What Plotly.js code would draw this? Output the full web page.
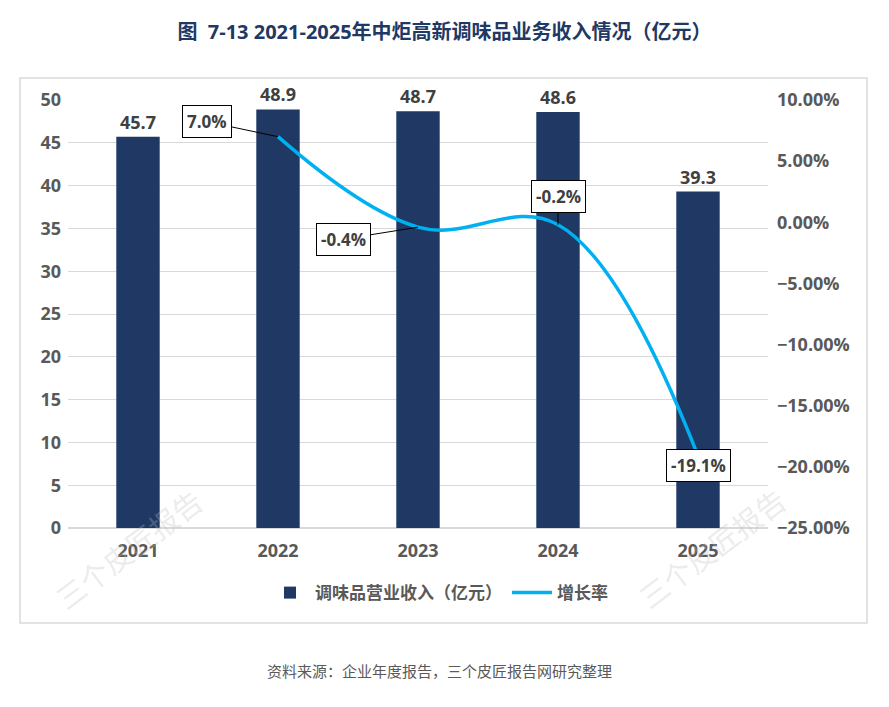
<!DOCTYPE html>
<html>
<head>
<meta charset="utf-8">
<script src="https://cdn.plot.ly/plotly-3.0.1.min.js"></script>
<style>
  body { margin: 0; background: #fff; }
  #chart { width: 889px; height: 707px; }
</style>
</head>
<body>
<div id="chart"></div>
<script>
var years = ['2021', '2022', '2023', '2024', '2025'];
var revenue = [45.7, 48.9, 48.7, 48.6, 39.3];
var growth = [null, 0.070, -0.004, -0.002, -0.191];
var growthLabels = ['', '7.0%', '-0.4%', '-0.2%', '-19.1%'];
// label offsets (px) from each point
var labelAx = [0, -71, -75, 0, 0];
var labelAy = [0, -15, 12, -28, 10];

var font = '"Open Sans", "Noto Sans CJK SC", sans-serif';
var navy = '#1f3864';
var blue = '#00b0f0';
var grey = '#595959';

var bars = {
    x: years,
    y: revenue,
    name: '调味品营业收入（亿元）',
    type: 'bar',
    marker: { color: navy },
    text: revenue.map(function (v) { return v.toFixed(1); }),
    textposition: 'outside',
    cliponaxis: false,
    textfont: { family: font, size: 18, color: '#404040', weight: 'bold' },
    hoverinfo: 'x+y'
};

var line = {
    x: years,
    y: growth,
    name: '增长率',
    type: 'scatter',
    mode: 'lines',
    yaxis: 'y2',
    line: { color: blue, width: 3.5, shape: 'spline', smoothing: 1.1 },
    connectgaps: false
};

var annotations = [];
for (var i = 0; i < years.length; i++) {
    if (growth[i] === null) continue;
    annotations.push({
        x: i, y: growth[i], xref: 'x', yref: 'y2',
        text: '<b>' + growthLabels[i] + '</b>',
        showarrow: true, arrowhead: 0, arrowwidth: 1, arrowcolor: '#000',
        ax: labelAx[i], ay: labelAy[i],
        bgcolor: '#fff', bordercolor: '#000', borderwidth: 1, borderpad: 4,
        font: { family: font, size: 17, color: '#404040' }
    });
}
// watermarks
annotations.push({
    xref: 'paper', yref: 'paper', x: 0.087, y: -0.05, text: '三个皮匠报告',
    showarrow: false, textangle: -37, xanchor: 'center', yanchor: 'middle',
    font: { family: font, size: 29, color: 'rgba(190,190,190,0.3)' }
});
annotations.push({
    xref: 'paper', yref: 'paper', x: 0.92, y: -0.047, text: '三个皮匠报告',
    showarrow: false, textangle: -37, xanchor: 'center', yanchor: 'middle',
    font: { family: font, size: 29, color: 'rgba(190,190,190,0.3)' }
});
// source note
annotations.push({
    xref: 'paper', yref: 'paper', x: 0.53, y: -0.335, text: '资料来源：企业年度报告，三个皮匠报告网研究整理',
    showarrow: false, xanchor: 'center', yanchor: 'middle',
    font: { family: font, size: 15, color: '#595959' }
});

var layout = {
    width: 889,
    height: 707,
    margin: { l: 68, r: 121, t: 100, b: 179 },
    paper_bgcolor: '#fff',
    plot_bgcolor: '#fff',
    font: { family: font, color: grey },
    title: {
        text: '<b>图  7-13 2021-2025年中炬高新调味品业务收入情况（亿元）</b>',
        font: { family: font, size: 20, color: navy },
        x: 0.5, xanchor: 'center', y: 0.955, yanchor: 'middle'
    },
    bargap: 0.69,
    showlegend: true,
    legend: {
        orientation: 'h', x: 0.53, xanchor: 'center', y: -0.152, yanchor: 'middle',
        font: { family: font, size: 17, color: grey, weight: 'bold' },
        itemwidth: 40
    },
    xaxis: {
        type: 'category',
        range: [-0.5, 4.5],
        tickfont: { family: font, size: 18, color: grey, weight: 'bold' },
        showline: false, ticks: '', showgrid: false, ticklabelstandoff: 10
    },
    yaxis: {
        range: [0, 50], dtick: 5,
        gridcolor: '#d9d9d9', gridwidth: 1,
        zeroline: true, zerolinecolor: '#d9d9d9', zerolinewidth: 1.5,
        tickfont: { family: font, size: 18, color: grey, weight: 'bold' },
        ticks: '', ticklabelstandoff: 6
    },
    yaxis2: {
        overlaying: 'y', side: 'right',
        range: [-0.25, 0.10], dtick: 0.05, tickformat: '.2%',
        showgrid: false, zeroline: false,
        tickfont: { family: font, size: 18, color: grey, weight: 'bold' },
        ticks: '', ticklabelstandoff: 8
    },
    shapes: [{
        type: 'rect', xref: 'paper', yref: 'paper',
        x0: -0.0686, x1: 1.1414, y0: -0.222, y1: 1.0514,
        line: { color: '#d9d9d9', width: 1.5 }
    }],
    annotations: annotations
};

Plotly.newPlot('chart', [bars, line], layout, { displayModeBar: false });
</script>
</body>
</html>
